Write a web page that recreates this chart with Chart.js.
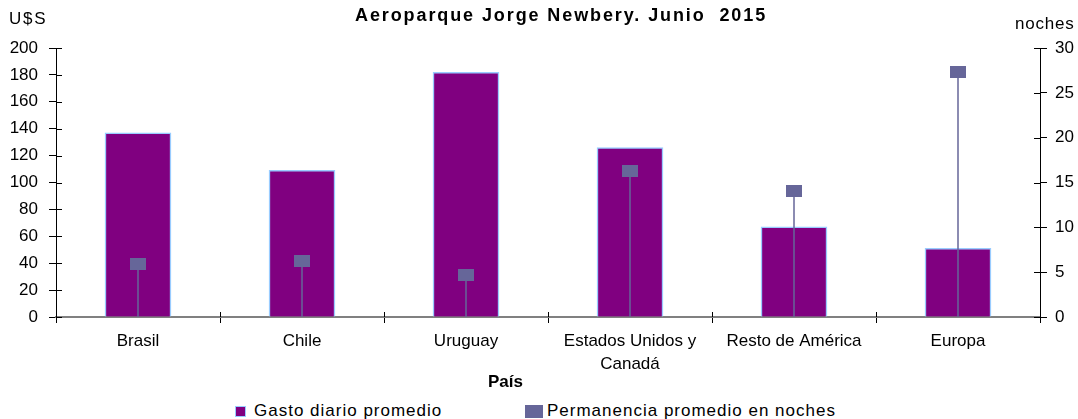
<!DOCTYPE html>
<html>
<head>
<meta charset="utf-8">
<script src="https://cdn.jsdelivr.net/npm/chart.js@4"></script>
<style>
  body { margin: 0; background: #fff; font-family: "Liberation Sans", Arial, sans-serif; }
  #wrap { position: relative; width: 1078px; height: 419px; }
  #chart { position: absolute; left: 0; top: 0; }
  .txt { position: absolute; color: #000; white-space: nowrap; line-height: 1; }
  #title { left: 355px; top: 6px; font-weight: bold; font-size: 18px; letter-spacing: 1.9px; }
  #yl { left: 9px; top: 10px; font-size: 17px; letter-spacing: 1.8px; }
  #yr { left: 1015px; top: 15px; font-size: 17px; letter-spacing: 0.8px; }
  #xt { left: 488px; top: 373px; font-size: 17px; font-weight: bold; }
  .leg { position: absolute; top: 402px; line-height: 1; font-size: 17px; letter-spacing: 1px; }
  .box { display: inline-block; vertical-align: -1px; }
</style>
</head>
<body>
<div id="wrap">
  <canvas id="chart" width="1078" height="395"></canvas>
  <div class="txt" id="title">Aeroparque Jorge Newbery. Junio&nbsp; 2015</div>
  <div class="txt" id="yl">U$S</div>
  <div class="txt" id="yr">noches</div>
  <div class="txt" id="xt">País</div>
  <div class="leg" style="left:235px"><span class="box" style="width:9px;height:9px;background:#800080;border:1px solid #99ccff;margin-right:8px"></span>Gasto diario promedio</div>
  <div class="leg" style="left:525px"><span class="box" style="width:18px;height:13px;background:#666699;margin-right:4px;vertical-align:-2px"></span>Permanencia promedio en noches</div>
</div>
<script>
const paises = ["Brasil", "Chile", "Uruguay", ["Estados Unidos y", "Canadá"], "Resto de América", "Europa"];
const gasto = [137, 109, 182, 126, 67, 51];
const noches = [5.9, 6.2, 4.7, 16.3, 14.0, 27.3];

const purple = "#800080";
const slate = "#666699";
const font = "'Liberation Sans', Arial, sans-serif";

// marcador rectangular como en el original
const marker = document.createElement("canvas");
marker.width = 16;
marker.height = 12;
const mctx = marker.getContext("2d");
mctx.fillStyle = slate;
mctx.fillRect(0, 0, 16, 12);

// lineas verticales desde cada marcador hasta el eje
const dropLines = {
  id: "dropLines",
  beforeDatasetDraw(chart, args) {
    if (args.index !== 1) return;
    const meta = chart.getDatasetMeta(1);
    const base = chart.scales.y1.getPixelForValue(0);
    const ctx = chart.ctx;
    ctx.save();
    ctx.strokeStyle = slate;
    ctx.lineWidth = 1.5;
    meta.data.forEach((pt) => {
      ctx.beginPath();
      ctx.moveTo(pt.x, pt.y);
      ctx.lineTo(pt.x, base);
      ctx.stroke();
    });
    ctx.restore();
  },
};

// marcas de los ejes hacia adentro
const innerTicks = {
  id: "innerTicks",
  afterDraw(chart) {
    const ctx = chart.ctx;
    ctx.save();
    ctx.strokeStyle = "#000";
    ctx.lineWidth = 1;
    ["y", "y1"].forEach((id) => {
      const s = chart.scales[id];
      const x = id === "y" ? s.right : s.left;
      const dir = id === "y" ? 1 : -1;
      s.ticks.forEach((t) => {
        const py = Math.round(s.getPixelForValue(t.value)) + 0.5;
        ctx.beginPath();
        ctx.moveTo(x, py);
        ctx.lineTo(x + dir * 6, py);
        ctx.stroke();
      });
    });
    const sx = chart.scales.x;
    for (let i = 1; i < sx.ticks.length; i++) {
      const px = Math.round((sx.getPixelForTick(i - 1) + sx.getPixelForTick(i)) / 2) + 0.5;
      ctx.beginPath();
      ctx.moveTo(px, sx.top);
      ctx.lineTo(px, sx.top - 5);
      ctx.stroke();
    }
    ctx.restore();
  },
};

new Chart(document.getElementById("chart"), {
  data: {
    labels: paises,
    datasets: [
      {
        type: "bar",
        label: "Gasto diario promedio",
        data: gasto,
        yAxisID: "y",
        backgroundColor: purple,
        borderColor: "#99ccff",
        borderWidth: 1.5,
        barThickness: 66,
        order: 2,
      },
      {
        type: "line",
        label: "Permanencia promedio en noches",
        data: noches,
        yAxisID: "y1",
        showLine: false,
        pointStyle: marker,
        pointRadius: 8,
        order: 1,
      },
    ],
  },
  options: {
    responsive: false,
    animation: false,
    layout: { padding: { top: 48, left: 0, right: 0, bottom: 0 } },
    plugins: {
      legend: { display: false },
      tooltip: { enabled: false },
    },
    scales: {
      x: {
        grid: { offset: true, drawOnChartArea: false, tickLength: 6, color: "#000" },
        border: { color: "#808080", width: 2 },
        ticks: { color: "#000", font: { family: font, size: 17, lineHeight: 1.35 }, padding: 7, maxRotation: 0 },
        afterFit: (s) => { s.height = 78; },
      },
      y: {
        position: "left",
        min: 0,
        max: 200,
        ticks: { stepSize: 20, color: "#000", font: { family: font, size: 17 }, padding: 11 },
        grid: { drawOnChartArea: false, tickLength: 7, color: "#000" },
        border: { color: "#000" },
        afterFit: (s) => { s.width = 56; },
      },
      y1: {
        position: "right",
        min: 0,
        max: 30,
        ticks: { stepSize: 5, color: "#000", font: { family: font, size: 17 }, padding: 8 },
        grid: { drawOnChartArea: false, tickLength: 7, color: "#000" },
        border: { color: "#000" },
        afterFit: (s) => { s.width = 38; },
      },
    },
  },
  plugins: [dropLines, innerTicks],
});
</script>
</body>
</html>
